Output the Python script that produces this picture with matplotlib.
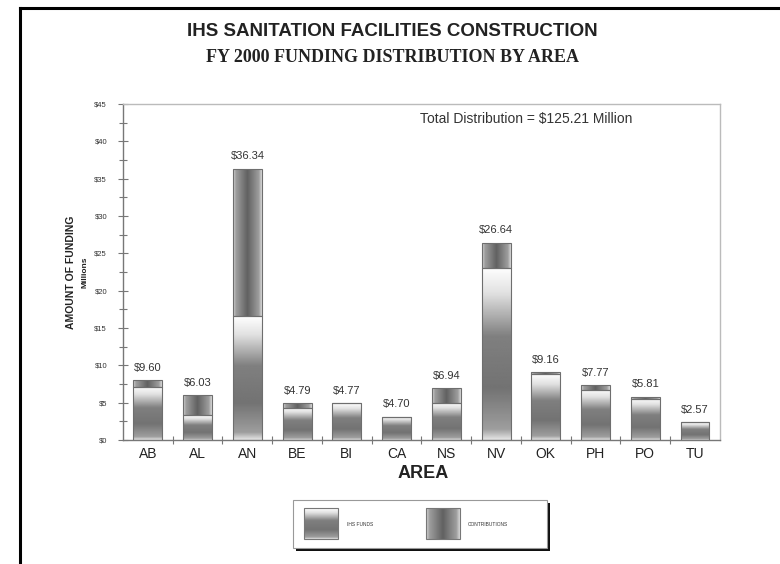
# IHS sanitation facilities - FY 2000 funding by area
import numpy as np
import matplotlib.pyplot as plt
from matplotlib.patches import Rectangle
from matplotlib.lines import Line2D
from matplotlib.ticker import MultipleLocator, FixedLocator, NullFormatter

# data (millions of dollars)
areas = ['AB', 'AL', 'AN', 'BE', 'BI', 'CA', 'NS', 'NV', 'OK', 'PH', 'PO', 'TU']
ihs_funds = [7.1, 3.3, 16.6, 4.3, 4.9, 3.1, 5.0, 23.1, 8.8, 6.7, 5.5, 2.4]
contributions = [0.9, 2.7, 19.7, 0.6, 0.0, 0.0, 1.9, 3.3, 0.3, 0.6, 0.3, 0.0]
value_labels = ['$9.60', '$6.03', '$36.34', '$4.79', '$4.77', '$4.70',
                '$6.94', '$26.64', '$9.16', '$7.77', '$5.81', '$2.57']
y_ticks = [0, 5, 10, 15, 20, 25, 30, 35, 40, 45]

plt.rcParams['font.family'] = ['Liberation Sans', 'DejaVu Sans']

# gradients (gray levels, 0 = black, 1 = white)
f = np.linspace(0, 1, 200)
ihs_grad = np.interp(f, [0, 0.06, 0.3, 0.6, 0.85, 1.0],
                     [0.9, 0.62, 0.45, 0.5, 0.88, 1.0]).reshape(-1, 1)
g = np.linspace(0, 1, 100)
con_grad = np.interp(g, [0, 0.1, 0.5, 0.9, 1.0],
                     [0.85, 0.62, 0.38, 0.62, 0.85]).reshape(1, -1)

fig = plt.figure(figsize=(7.8, 5.64), dpi=100)
ax = fig.add_axes([0.1577, 0.2199, 0.923 - 0.1577, 0.8156 - 0.2199])

x = np.arange(len(areas))
totals = np.array(ihs_funds) + np.array(contributions)

bars_ihs = ax.bar(x, ihs_funds, width=0.58, color='none', edgecolor='#6e6e6e', lw=0.8, zorder=3)
bars_con = ax.bar(x, contributions, bottom=ihs_funds, width=0.58, color='none',
                  edgecolor='#6e6e6e', lw=0.8, zorder=3)

for b in bars_ihs:
    x0, y0, w, h = b.get_x(), b.get_y(), b.get_width(), b.get_height()
    if h <= 0:
        continue
    im = ax.imshow(ihs_grad, cmap='gray', vmin=0, vmax=1, origin='lower',
                   extent=[x0, x0 + w, y0, y0 + h], aspect='auto', zorder=2)
    im.set_clip_path(b)

for b in bars_con:
    x0, y0, w, h = b.get_x(), b.get_y(), b.get_width(), b.get_height()
    if h <= 0:
        continue
    im = ax.imshow(con_grad, cmap='gray', vmin=0, vmax=1, origin='lower',
                   extent=[x0, x0 + w, y0, y0 + h], aspect='auto', zorder=2)
    im.set_clip_path(b)

for i, t in enumerate(totals):
    ax.text(x[i], t + 1.0, value_labels[i], ha='center', va='bottom', fontsize=8, color='#333333')

ax.set_xlim(-0.5, len(areas) - 0.5)
ax.set_ylim(0, 45)

ax.yaxis.set_major_locator(FixedLocator(y_ticks))
ax.yaxis.set_minor_locator(MultipleLocator(2.5))
ax.set_yticklabels(['$' + str(v) for v in y_ticks])
ax.tick_params(axis='y', which='major', direction='inout', length=7, width=0.8,
               color='#777777', labelsize=5.5, labelcolor='#333333', pad=8)
ax.tick_params(axis='y', which='minor', direction='inout', length=6, width=0.8, color='#777777')

ax.set_xticks(x)
ax.set_xticklabels(areas)
ax.xaxis.set_minor_locator(FixedLocator(np.arange(0.5, len(areas) - 0.5, 1)))
ax.xaxis.set_minor_formatter(NullFormatter())
ax.tick_params(axis='x', which='major', length=0, labelsize=10, labelcolor='#222222', pad=5)
ax.tick_params(axis='x', which='minor', direction='inout', length=6, width=0.8, color='#777777')

for s in ['left', 'bottom']:
    ax.spines[s].set_color('#777777')
    ax.spines[s].set_linewidth(1.0)
for s in ['top', 'right']:
    ax.spines[s].set_color('#bbbbbb')
    ax.spines[s].set_linewidth(1.0)

ax.text(0.854, 0.975, 'Total Distribution = $125.21 Million', transform=ax.transAxes,
        ha='right', va='top', fontsize=10, color='#333333')

# titles and axis titles
fig.text(0.503, 1 - 32 / 564, 'IHS SANITATION FACILITIES CONSTRUCTION', ha='center', va='center',
         fontsize=13.5, fontweight='bold', color='#222222')
fig.text(0.503, 1 - 58 / 564, 'FY 2000 FUNDING DISTRIBUTION BY AREA', ha='center', va='center',
         fontsize=13, fontweight='bold', color='#222222', family=['Liberation Serif', 'DejaVu Serif'])
fig.text(71 / 780, 1 - 272 / 564, 'AMOUNT OF FUNDING', rotation=90, ha='center', va='center',
         fontsize=7.5, fontweight='bold', color='#222222')
fig.text(85 / 780, 1 - 272 / 564, 'Millions', rotation=90, ha='center', va='center',
         fontsize=6, fontweight='bold', color='#222222')
fig.text(423 / 780, 1 - 474 / 564, 'AREA', ha='center', va='center',
         fontsize=13, fontweight='bold', color='#222222')

# legend box with shadow
lax = fig.add_axes([293 / 780, 1 - 548 / 564, 254 / 780, 48 / 564])
lax.set_xlim(0, 254)
lax.set_ylim(0, 48)
lax.axis('off')
lax.add_patch(Rectangle((3, -3), 254, 48, facecolor='#111111', edgecolor='none', clip_on=False, zorder=1))
lax.add_patch(Rectangle((0, 0), 254, 48, facecolor='white', edgecolor='#999999', lw=0.8, clip_on=False, zorder=2))
p1 = Rectangle((11, 9), 34, 31, facecolor='none', edgecolor='#777777', lw=0.8, zorder=4)
lax.add_patch(p1)
im = lax.imshow(ihs_grad, cmap='gray', vmin=0, vmax=1, origin='lower',
                extent=[11, 45, 9, 40], aspect='auto', zorder=3)
im.set_clip_path(p1)
lax.text(54, 24, 'IHS FUNDS', fontsize=3.5, va='center', ha='left', color='#333333', zorder=5)
p2 = Rectangle((133, 9), 34, 31, facecolor='none', edgecolor='#777777', lw=0.8, zorder=4)
lax.add_patch(p2)
im = lax.imshow(con_grad, cmap='gray', vmin=0, vmax=1, origin='lower',
                extent=[133, 167, 9, 40], aspect='auto', zorder=3)
im.set_clip_path(p2)
lax.text(175, 24, 'CONTRIBUTIONS', fontsize=3.5, va='center', ha='left', color='#333333', zorder=5)
lax.set_xlim(0, 254)
lax.set_ylim(0, 48)

# page frame (top and left edges)
fig.add_artist(Line2D([20 / 780, 1], [1 - 8 / 564, 1 - 8 / 564], color='black', lw=2.2))
fig.add_artist(Line2D([20 / 780, 20 / 780], [0, 1 - 8 / 564], color='black', lw=2.2))

fig.savefig('out.png', dpi=100)
